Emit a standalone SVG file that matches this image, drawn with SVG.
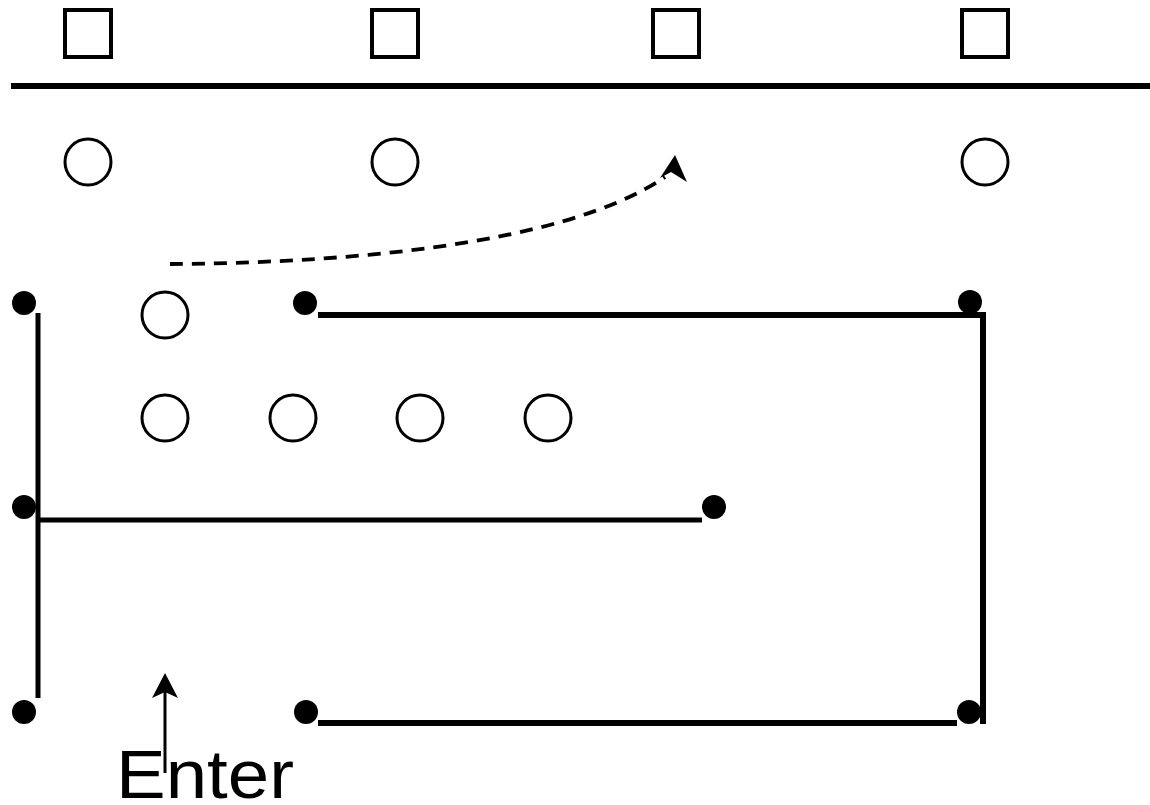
<svg xmlns="http://www.w3.org/2000/svg" width="1150" height="805" viewBox="0 0 1150 805">
  <style>
    .box { fill: none; stroke: #000; stroke-width: 4; }
    .ring { fill: #fff; stroke: #000; stroke-width: 3; }
    .dot { fill: #000; }
    .wall { stroke: #000; stroke-width: 6; fill: none; }
    .thin { stroke: #000; stroke-width: 5; fill: none; }
    .flow { stroke: #000; stroke-width: 3.8; fill: none; stroke-dasharray: 13 9; }
    .label { font-family: "Liberation Sans", Arial, sans-serif; font-size: 68px; fill: #000; }
  </style>

  <!-- top rule -->
  <line x1="11" y1="86" x2="1150" y2="86" class="wall"/>

  <!-- square markers above the rule -->
  <g id="sq1"><rect x="65" y="10" width="46" height="47" class="box"/></g>
  <g id="sq2"><rect x="372" y="10" width="46" height="47" class="box"/></g>
  <g id="sq3"><rect x="653" y="10" width="46" height="47" class="box"/></g>
  <g id="sq4"><rect x="962" y="10" width="46" height="47" class="box"/></g>

  <!-- open circles -->
  <g id="c1"><circle cx="88" cy="162" r="23" class="ring"/></g>
  <g id="c2"><circle cx="395" cy="162" r="23" class="ring"/></g>
  <g id="c3"><circle cx="985" cy="162" r="23" class="ring"/></g>
  <g id="c4"><circle cx="165" cy="315" r="23" class="ring"/></g>
  <g id="c5"><circle cx="165" cy="418" r="23" class="ring"/></g>
  <g id="c6"><circle cx="293" cy="418" r="23" class="ring"/></g>
  <g id="c7"><circle cx="420" cy="418" r="23" class="ring"/></g>
  <g id="c8"><circle cx="548" cy="418" r="23" class="ring"/></g>

  <!-- walls, movement path and entry arrow -->
  <g id="connectors">
    <line x1="38" y1="313" x2="38" y2="698" class="thin"/>
    <line x1="38" y1="520" x2="702" y2="520" class="thin"/>
    <line x1="318" y1="315" x2="986" y2="315" class="wall"/>
    <line x1="983" y1="313" x2="983" y2="724" class="wall"/>
    <line x1="318" y1="723" x2="957" y2="723" class="wall"/>

    <path d="M170,264 C330,263 560,248 665,177" class="flow"/>
    <polygon points="675,155 687,182 671,172 660,178" fill="#000"/>

    <line x1="165" y1="690" x2="165" y2="773" stroke="#000" stroke-width="3"/>
    <polygon points="165,673 178,698 165,692 152,698" fill="#000"/>
  </g>

  <g id="d1"><circle cx="24" cy="303" r="12" class="dot"/></g>
  <g id="d2"><circle cx="305" cy="303" r="12" class="dot"/></g>
  <g id="d3"><circle cx="970" cy="302" r="12" class="dot"/></g>
  <g id="d4"><circle cx="24" cy="507" r="12" class="dot"/></g>
  <g id="d5"><circle cx="714" cy="507" r="12" class="dot"/></g>
  <g id="d6"><circle cx="24" cy="712" r="12" class="dot"/></g>
  <g id="d7"><circle cx="306" cy="712" r="12" class="dot"/></g>
  <g id="d8"><circle cx="969" cy="712" r="12" class="dot"/></g>

  <g id="enter">
    <text x="116" y="798" class="label" textLength="178" lengthAdjust="spacingAndGlyphs">Enter</text>
  </g>
</svg>
